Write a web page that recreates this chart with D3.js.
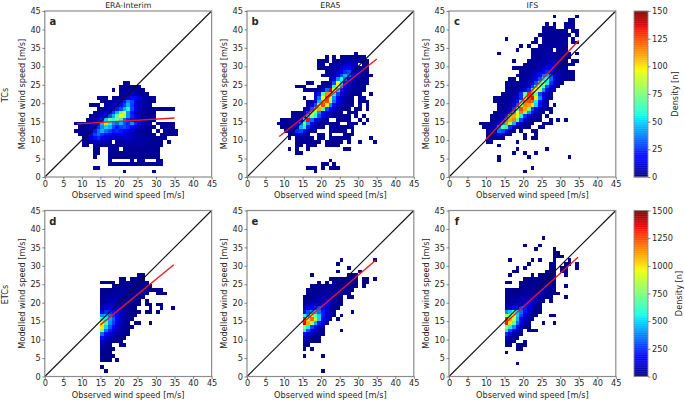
<!DOCTYPE html>
<html><head><meta charset="utf-8">
<script src="https://cdnjs.cloudflare.com/ajax/libs/d3/7.8.5/d3.min.js"></script>
<style>html,body{margin:0;padding:0;background:#fff}svg{display:block}text{font-family:"DejaVu Sans",sans-serif;fill:#262626}</style>
</head><body><div id="c"></div>
<script>
const tickValues=[0,5,10,15,20,25,30,35,40,45];
const xLabel="Observed wind speed [m/s]", yLabel="Modelled wind speed [m/s]";
const titles=["ERA-Interim","ERA5","IFS"];
const letters=["a","b","c","d","e","f"];
const rowLabels=["TCs","ETCs"];
const tcTicks=[0,25,50,75,100,125,150];
const etcTicks=[0,250,500,750,1000,1250,1500];
// each row: [modelled-speed bin, first observed-speed bin, densities...]
const panelA=[
[25,21,[4,4]],[24,20,[3,4,4,3,3,3]],[23,18,[3,0,3,4,5,5,4,3,3]],[22,20,[4,6,8,8,5,4,3,2]],
[21,14,[3,3,3,0,3,3,4,6,10,20,20,12,7,4,3,3]],[20,15,[3,3,4,5,8,14,22,38,30,14,8,5,4,3,3]],
[19,12,[3,3,3,0,4,6,10,16,20,28,45,28,14,8,5,4,3]],
[18,14,[3,3,6,8,14,22,30,45,60,30,16,8,6,4,3,3,3,3,3,3,3]],
[17,13,[3,4,8,12,16,28,45,75,90,40,22,10,6,4,3,3,3]],
[16,12,[3,4,6,12,20,30,45,70,95,85,40,24,14,8,4,3,3,3]],
[15,11,[3,4,8,14,25,50,70,60,75,60,35,25,20,12,6,4,3,3,3]],
[14,8,[3,3,3,5,8,15,28,45,100,55,40,35,45,30,25,40,25,14,8,5,4,0,3,3,3,3,3]],
[13,9,[3,3,4,8,12,25,40,50,45,30,22,28,30,25,18,12,8,5,4,3,3,0,3,3,3,3]],
[12,8,[3,3,3,5,10,22,35,45,35,28,22,25,22,18,14,10,6,4,3,3,3,0,3,0,3,3,3,3]],
[11,9,[3,3,6,14,28,35,25,20,18,15,16,14,12,10,7,5,4,3,3,3,3,0,3,3,3,3,3]],
[10,10,[3,4,10,20,25,18,12,10,10,9,10,10,9,8,6,5,4,3,3,3,3,3,3]],
[9,10,[3,3,5,8,8,6,6,5,0,5,5,6,6,6,6,5,5,4,3,3,3,3,0,3]],
[8,10,[3,3,0,3,3,3,3,3,3,3,4,4,4,4,4,4,4,3,3,3,3,3]],
[7,13,[3,3,0,0,3,3,3,0,3,3,3,3,3,3,3,3,3,3]],
[6,13,[3,3,0,0,3,3,3,3,3,3,3,3,3,3,3,3,3,3]],
[5,13,[3,0,0,0,3,3,3,3,3,3,3,3,3,3,3,3,3,3]],
[4,17,[3,0,0,0,0,0,3,0,3,3,0,0,0,3,3]],
[3,17,[3,3,3,3,3,3,3,3,3,3,3,3,3,3,3]],
[2,13,[3,3]],[1,21,[3]],[1,29,[3]]];
const panelB=[
[33,29,[3]],[32,21,[3,0,3,0,3,4,4,4,3,3,3]],[31,19,[3,3,3,0,3,3,4,5,6,6,5,4,3,3]],
[30,19,[3,3,0,3,4,5,6,8,10,10,7,0,3,3]],[29,19,[3,3,3,4,5,6,10,15,18,12,7,4,3,3]],
[28,21,[3,4,6,8,14,25,30,20,10,6,4,3]],[27,20,[3,3,4,7,14,30,45,35,20,10,6,4,3,3]],
[26,22,[5,12,40,60,35,15,8,5,3,3,3]],
[25,16,[3,3,0,0,3,3,5,30,95,50,20,10,6,4,3,3,3]],
[24,13,[3,3,3,0,0,0,3,4,6,15,60,95,45,15,8,5,4,3,3]],
[23,15,[3,3,3,3,4,10,35,140,100,50,22,10,6,4,3,3,3]],
[22,18,[8,22,70,115,110,55,28,12,6,4,3,3,3,0,0,3]],
[21,15,[3,0,0,10,35,95,125,90,40,16,8,5,3,3,0,3,3]],
[20,16,[3,4,12,45,115,125,85,35,18,9,5,3,3,0,3,3,3]],
[19,16,[3,10,30,100,125,90,40,20,10,6,4,3,3,0,3,0,3]],
[18,15,[3,5,30,85,110,70,30,14,8,5,4,3,3,0,3,3,0,3]],
[17,12,[3,3,3,5,25,85,75,40,18,10,6,4,3,3,0,3,3,3]],
[16,12,[3,3,3,8,50,80,60,30,14,10,6,4,3,3,3,3,0,3,0,3]],
[15,9,[3,3,3,3,4,12,50,135,35,16,8,5,3,0,0,3,3,3,3,0,0,3,0,3]],
[14,8,[3,3,3,3,4,10,35,70,40,14,8,4,3,3,3,3,3,0,0,3,3,3,0,3]],
[13,9,[3,3,3,5,15,45,55,22,9,5,3,3,0,3,3,3,3,3,3,3]],
[12,10,[3,3,8,25,30,15,6,3,3,0,0,0,3,3,3,3,3,0,3]],
[11,11,[3,5,12,14,5,3,0,0,3,3,0,3,0,0,0,3,3,3]],
[10,11,[3,0,3,3,3,3,3,0,3,3,0,3,3,3,3,3,3,0,0,0,0,0,3]],
[9,13,[3,3,3,3,3,3,3,0,3,3,3,3,3,0,3,0,0,3,0,0,0,3]],
[8,13,[3,3,0,3,3,3,0,0,3,3,3,3]],[7,11,[3,0,3,0,0,3,0,0,0,0,0,0,0,0,0,3,3]],[6,13,[3,3]],
[4,22,[3]],[3,20,[3,3,0,3]],[2,16,[3,3,3,0,3,0,3,3,3]],[1,18,[3]]];
const panelC=[
[43,28,[3,0,0,0,0,0,3]],[42,32,[3,3]],[41,26,[3,0,3,0,0,3,3,3]],[40,25,[3,3,3,3,0,0,3,3,3]],
[39,25,[3,3,3,3,3,3,3,0,3,3]],[38,24,[3,3,3,3,3,3,3,3,3,0,3]],
[37,15,[3,0,0,0,0,0,0,0,3,0,3,3,3,3,4,4,3,0,3]],[36,22,[3,3,0,3,3,3,4,4,4,3,0,3,3]],
[35,19,[3,0,3,0,0,3,3,4,4,4,5,4,3]],[34,18,[3,0,0,0,3,3,3,4,5,5,0,3,3,3]],
[33,13,[3,0,0,0,0,0,0,0,0,3,3,4,4,4,5,4,3,3,3,3,0,3]],
[32,22,[3,3,4,4,4,5,5,4,4,3,3]],[31,17,[3,0,0,0,3,3,4,4,5,6,7,6,5,4,3,0,3,3]],
[30,20,[3,3,4,4,5,6,8,10,9,7,5,4,3,3]],[29,17,[3,3,3,3,3,4,5,7,10,14,15,12,8,5,3]],
[28,19,[3,3,4,5,7,11,18,25,20,12,7,4,3,3,3]],[27,18,[3,3,4,5,7,12,20,35,45,30,15,8,4,3,3,3]],
[26,16,[3,3,0,3,3,5,8,15,30,55,60,35,15,7,4,3,3,3]],[25,15,[3,3,3,3,4,5,8,14,30,60,85,55,25,10,5,3]],
[24,15,[3,3,3,3,4,7,12,28,60,90,70,30,12,6,3]],[23,15,[3,3,3,4,6,11,25,60,95,85,40,16,7,4]],
[22,14,[3,3,3,4,8,25,70,130,120,75,30,12,5,3]],[21,12,[3,3,3,3,4,5,9,25,80,125,135,100,40,15,5,3]],
[20,12,[3,3,3,3,4,8,20,60,120,125,120,55,22,8,4]],[19,13,[3,3,4,5,10,30,85,115,110,100,50,20,8,4,0,3]],
[18,13,[3,3,4,8,25,70,125,110,75,30,12,6,4,3,3]],[17,12,[3,3,3,4,10,45,95,115,75,40,18,8,5,4,0,3]],
[16,11,[3,3,4,6,20,60,110,95,55,25,12,6,3,3,0,3]],[15,11,[3,3,5,12,45,110,115,70,30,12,5,3,3,3,0,0,3,0,3,0,3]],
[14,8,[3,3,3,4,5,10,40,115,85,45,18,8,3,3,3,0,0,3,3,3]],[13,9,[3,3,4,10,40,70,55,25,9,3,3,3,3,0,0,3,3]],
[12,10,[3,5,14,35,30,15,5,3,0,3,0,0,3,3]],[11,10,[3,3,6,18,12,4,3,0,0,0,3,0,0,3]],
[10,10,[3,3,5,3,3,0,0,0,0,0,3,0,3,3]],[9,10,[3,3,0,0,0,0,0,0,3]],[8,13,[3]],[7,18,[3]],[7,26,[3]],
[6,17,[3,0,0,3,0,0,3]],[5,13,[3]],[5,21,[3]],[5,32,[3]],[4,13,[3]],[2,22,[3]],[1,20,[3]]];
const panelD=[
[27,25,[20,20]],[26,20,[15,15,0,15,20,25,20]],[25,15,[15,15,15,15,0,20,25,25,25,30,30,25,20]],
[24,18,[15,20,25,30,30,35,35,30,25,20,15]],[23,15,[15,20,25,30,35,40,40,40,35,30,30,25,20,20,15,15,15]],
[22,15,[20,25,30,40,45,45,45,40,35,30,25,20,15,0,0,15,15,15]],[21,15,[25,35,45,55,55,50,45,40,30,25,20,15]],
[20,15,[30,45,65,70,65,55,45,35,25,20,15,0,15]],[19,15,[40,70,95,90,75,55,40,30,20,15,15,0,15,15,0,15,15]],
[18,15,[60,100,125,110,85,60,40,25,18,15,0,0,0,15,0,0,15,0,0,15]],
[17,15,[150,250,250,200,130,80,45,25,15,15,15,0,15,15,0,15]],[16,15,[400,450,350,260,160,90,50,28,15,15]],
[15,15,[600,560,430,320,180,90,45,25,15]],[14,15,[950,650,400,280,140,70,40,20,0,15,15,0,0,15]],
[13,15,[1000,500,320,200,100,55,30,18,15]],[12,15,[750,350,220,130,80,45,25,15]],[11,15,[350,170,120,80,50,30,18,15]],
[10,15,[200,110,70,45,30,20,15]],[9,15,[100,60,40,25,20,15]],[8,15,[60,30,20,0,0,15,15]],[7,15,[40,20,15,15]],
[6,15,[30,15,15]],[5,15,[20,15,15,15]],[4,15,[20,15,15,0,15]],[2,15,[15]],[1,16,[15]]];
const panelE=[
[31,25,[15]],[31,34,[15]],[30,24,[15]],[29,27,[15]],[28,24,[15]],[28,30,[15]],[27,17,[15]],[27,27,[15,15,15]],
[26,22,[15,15,20,20,20,25,20,15,0,15,15,0,15]],[25,19,[15,0,15,0,15,20,20,25,25,20,15,0,15,15]],
[24,17,[15,15,20,20,25,30,35,35,35,30,25,20,15,0,15]],[23,16,[15,20,20,25,30,40,50,50,45,35,25,20,15]],
[22,16,[15,20,30,35,45,60,75,70,50,35,25,18]],[21,15,[15,20,25,40,50,70,100,95,60,35,20,0,15,15]],
[20,15,[20,25,35,55,75,120,140,90,50,25,15]],[19,15,[30,60,90,100,130,190,130,70,35,20,15]],
[18,15,[80,120,180,250,300,200,100,40,20,15]],[17,15,[150,300,400,450,350,220,120,40,15,0,0,0,0,15]],
[16,15,[600,400,800,700,500,220,100,40,15,0,15]],[15,15,[1300,1000,1200,900,500,180,70,25,0,15]],
[14,15,[1400,1100,850,450,200,90,30]],[13,15,[800,550,300,170,80,30]],[12,15,[600,300,180,90,40,20,0,0,0,0,15]],
[11,15,[200,110,70,40,20,15]],[10,15,[100,50,30,18,15]],[9,15,[50,25,15,15,15]],[8,15,[25,15]],[7,15,[15,0,15]],
[5,15,[15]],[5,20,[15]],[1,20,[15]]];
const panelF=[
[37,25,[15]],[35,20,[15]],[35,24,[15]],[34,23,[15]],[34,28,[15]],[33,28,[15,15]],[32,28,[15,15,15]],
[31,16,[15]],[31,22,[15]],[31,24,[15]],[31,28,[15]],[31,32,[15]],[30,21,[15]],[30,27,[15,15]],[30,31,[15,15]],[30,34,[15]],
[29,18,[15]],[29,20,[15]],[29,27,[15,15]],[29,30,[15,15]],[29,34,[15]],[28,17,[15,15]],[28,26,[15,15,15]],[28,30,[15,15]],
[27,16,[15]],[27,22,[15]],[27,24,[15,15,20,20,15]],[27,31,[15]],[26,20,[15,15,20,20,25,25,25,20,15]],
[25,15,[15,15,0,0,15,15,20,25,30,30,30,25,20,15]],[24,19,[15,20,25,30,35,40,35,30,25,15]],[24,31,[15]],
[23,15,[15,15,15,15,20,25,30,35,45,55,55,45,35,25]],[22,15,[15,20,20,25,30,40,50,70,80,70,50,35,25,15,15]],
[21,15,[15,20,25,35,50,65,85,110,90,55,35,20,15,0,0,0,15]],[20,15,[20,30,40,60,80,110,150,120,70,35,15,0,15]],
[19,15,[30,45,70,100,140,190,170,90,40,15]],[18,15,[50,80,130,220,280,230,120,60,25,15]],
[17,15,[400,500,600,500,350,200,90,40,15,15]],[16,15,[850,750,900,500,280,110,50,20,15,0,0,0,15,15]],
[15,15,[1300,1100,900,450,180,80,30,15]],[14,15,[1300,1000,700,350,130,60,20,0,0,0,15,0,0,15]],
[13,15,[800,550,400,170,80,30,15]],[12,15,[550,300,170,90,40,0,15,15,15]],[11,15,[250,120,70,40,20]],
[10,15,[100,50,30,15]],[9,15,[40,20,15,0,0,15]],[8,15,[25,15,0,15,15,15]],[7,18,[15,15]],[6,15,[15]],[3,18,[15]]];
const panels=[panelA,panelB,panelC,panelD,panelE,panelF];
// fitted lines: [x1,y1,x2,y2] in m/s
const fitA=[8.7,14.4,35,16], fitB=[8.7,11,35,32], fitC=[9.8,10,35,37],
      fitD=[15,14,34.8,30.3], fitE=[15,14.5,34.7,31.5], fitF=[15,14.3,34.8,32.3];
const fits=[fitA,fitB,fitC,fitD,fitE,fitF];
const maxima=[150,150,150,1500,1500,1500];
// matplotlib jet anchors
const jetR=[[0,0],[.35,0],[.66,1],[.89,1],[1,.5]],
      jetG=[[0,0],[.125,0],[.375,1],[.64,1],[.91,0],[1,0]],
      jetB=[[0,.5],[.11,1],[.34,1],[.65,0],[1,0]];
const ch=a=>d3.scaleLinear().domain(a.map(d=>d[0])).range(a.map(d=>d[1]));
const R=ch(jetR),G=ch(jetG),B=ch(jetB);
const jet=t=>`rgb(${Math.round(R(t)*255)},${Math.round(G(t)*255)},${Math.round(B(t)*255)})`;

const W=685,H=401;
const svg=d3.select("#c").append("svg").attr("width",W).attr("height",H).attr("viewBox",`0 0 ${W} ${H}`);
const lefts=[44.8,247,449], tops=[11,210.5], PW=166.8, PH=166;
const spine="#8c8c8c", FS=8.2;
function styleAxis(g){
  g.selectAll("path").remove();
  g.selectAll("line").attr("stroke","#555").attr("stroke-width",.7);
  g.selectAll("text").attr("font-size",FS).attr("fill","#262626");
}
panels.forEach((rows,i)=>{
  const c=i%3,r=Math.floor(i/3),L=lefts[c],T=tops[r];
  const x=d3.scaleLinear().domain([0,45]).range([L,L+PW]);
  const y=d3.scaleLinear().domain([0,45]).range([T+PH,T]);
  const g=svg.append("g");
  const cells=[];
  rows.forEach(([yb,x0,vals])=>vals.forEach((v,k)=>{if(v>0)cells.push({xb:x0+k,yb,v});}));
  g.selectAll("rect.cell").data(cells).join("rect").attr("class","cell")
    .attr("shape-rendering","crispEdges")
    .attr("x",d=>x(d.xb)).attr("y",d=>y(d.yb+1))
    .attr("width",d=>x(d.xb+1)-x(d.xb)).attr("height",d=>y(d.yb)-y(d.yb+1))
    .attr("fill",d=>jet(d.v/maxima[i]));
  g.append("line").attr("x1",x(0)).attr("y1",y(0)).attr("x2",x(45)).attr("y2",y(45)).attr("stroke","#111").attr("stroke-width",1.1);
  const f=fits[i];
  g.append("line").attr("x1",x(f[0])).attr("y1",y(f[1])).attr("x2",x(f[2])).attr("y2",y(f[3])).attr("stroke","#f01818").attr("stroke-width",1.35);
  g.append("rect").attr("x",L).attr("y",T).attr("width",PW).attr("height",PH).attr("fill","none").attr("stroke",spine).attr("stroke-width",1.2);
  g.append("g").attr("transform",`translate(0,${T+PH})`).call(d3.axisBottom(x).tickValues(tickValues).tickSize(2.5).tickPadding(1.5)).call(styleAxis);
  g.append("g").attr("transform",`translate(${L},0)`).call(d3.axisLeft(y).tickValues(tickValues).tickSize(2.5).tickPadding(1.5)).call(styleAxis);
  g.append("text").attr("x",L+PW/2).attr("y",T+PH+21).attr("text-anchor","middle").attr("font-size",FS).text(xLabel);
  g.append("text").attr("transform",`translate(${L-20},${T+PH/2}) rotate(-90)`).attr("text-anchor","middle").attr("font-size",FS).text(yLabel);
  g.append("text").attr("x",L+8).attr("y",T+14).attr("text-anchor","middle").attr("font-size",10).attr("font-weight","bold").attr("fill","#111").text(letters[i]);
  if(r===0) g.append("text").attr("x",L+PW/2).attr("y",7.5).attr("text-anchor","middle").attr("font-size",7.8).text(titles[c]);
  if(c===0) g.append("text").attr("transform",`translate(7.5,${T+PH/2+1}) rotate(-90)`).attr("text-anchor","middle").attr("font-size",FS).text(rowLabels[r]);
});
// colourbars
[[tcTicks,0,150],[etcTicks,1,1500]].forEach(([ticks,r,mx])=>{
  const T=tops[r],xb=634,wb=14;
  const y=d3.scaleLinear().domain([0,mx]).range([T+PH,T]);
  const steps=d3.range(0,256);
  svg.append("g").selectAll("rect").data(steps).join("rect")
    .attr("x",xb).attr("width",wb)
    .attr("y",d=>y((d+1)/256*mx)).attr("height",d=>y(d/256*mx)-y((d+1)/256*mx)+.3)
    .attr("fill",d=>jet(d/255));
  svg.append("rect").attr("x",xb).attr("y",T).attr("width",wb).attr("height",PH).attr("fill","none").attr("stroke",spine).attr("stroke-width",.9);
  svg.append("g").attr("transform",`translate(${xb+wb},0)`).call(d3.axisRight(y).tickValues(ticks).tickFormat(d3.format("d")).tickSize(2.5).tickPadding(1.5)).call(styleAxis);
  svg.append("text").attr("transform",`translate(${r===0?675:679.5},${T+PH/2}) rotate(-90)`).attr("text-anchor","middle").attr("dominant-baseline","middle").attr("font-size",FS).text("Density [n]");
});
</script></body></html>
